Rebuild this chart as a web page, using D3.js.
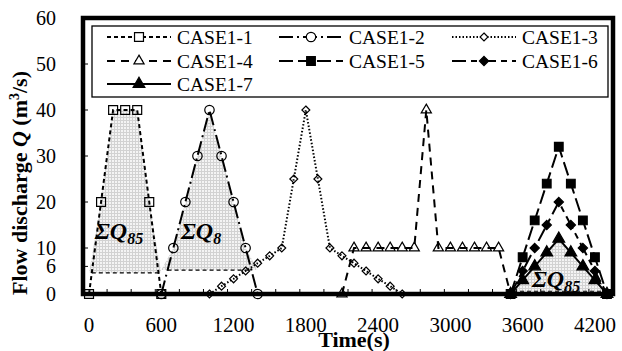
<!DOCTYPE html>
<html>
<head>
<meta charset="utf-8">
<script src="https://cdn.jsdelivr.net/npm/d3@7"></script>
<style>
  body { margin: 0; background: #fff; }
</style>
</head>
<body>
<div id="chart"></div>
<script>
// hydrograph data, time in s, Q in m3/s
const time1 = [0, 100, 200, 300, 400, 500, 600];
const q1 = [0, 20, 40, 40, 40, 20, 0];
const time2 = [600, 700, 800, 900, 1000, 1100, 1200, 1300, 1400];
const q2 = [0, 10, 20, 30, 40, 30, 20, 10, 0];
const time3 = [1000, 1100, 1200, 1300, 1400, 1500, 1600, 1700, 1800, 1900, 2000, 2100, 2200, 2300, 2400, 2500, 2600];
const q3 = [0, 1.7, 3.3, 5, 6.7, 8.3, 10, 25, 40, 25, 10, 8.3, 6.7, 5, 3.3, 1.7, 0];
const time4 = [2100, 2200, 2300, 2400, 2500, 2600, 2700, 2800, 2900, 3000, 3100, 3200, 3300, 3400, 3500];
const q4 = [0, 10, 10, 10, 10, 10, 10, 40, 10, 10, 10, 10, 10, 10, 0];
const time5 = [3500, 3600, 3700, 3800, 3900, 4000, 4100, 4200, 4300];
const q5 = [0, 8, 16, 24, 32, 24, 16, 8, 0];
const q6 = [0, 5, 10, 15, 20, 15, 10, 5, 0];
const q7 = [0, 3, 6, 9, 12, 9, 6, 3, 0];

const seriesNames = ["CASE1-1", "CASE1-2", "CASE1-3", "CASE1-4", "CASE1-5", "CASE1-6", "CASE1-7"];
const xTickLabels = [0, 600, 1200, 1800, 2400, 3000, 3600, 4200];
const yTickLabels = [0, 6, 10, 20, 30, 40, 50, 60];

// shaded volumes: which series, threshold Q
const shadeSeries = [0, 1, 6];
const shadeBase = [4.6, 5.2, 0.6];

const W = 622, H = 351;
const plot = { left: 83, right: 613, top: 18, bottom: 294 };
const serif = "'Liberation Serif', 'Times New Roman', Times, serif";

const x = d3.scaleLinear().domain([-50, 4350]).range([plot.left, plot.right]);
const y = d3.scaleLinear().domain([0, 60]).range([plot.bottom, plot.top]);

const svg = d3.select("#chart").append("svg")
  .attr("width", W).attr("height", H)
  .attr("font-family", serif);

const defs = svg.append("defs");
const pat = defs.append("pattern").attr("id", "grid")
  .attr("width", 3).attr("height", 3).attr("patternUnits", "userSpaceOnUse");
pat.append("rect").attr("width", 3).attr("height", 3).attr("fill", "#f4f4f4");
pat.append("path").attr("d", "M0,0.5H3M0.5,0V3").attr("stroke", "#d2d2d2").attr("stroke-width", 1);

const series = [
  { t: time1, q: q1, dash: "4,3", sym: d3.symbolSquare, size: 80, fill: "none" },
  { t: time2, q: q2, dash: "14,4,2,4", sym: d3.symbolCircle, size: 70, fill: "none" },
  { t: time3, q: q3, dash: "1.5,2", sym: d3.symbolDiamond2, size: 40, fill: "none" },
  { t: time4, q: q4, dash: "8,6", sym: d3.symbolTriangle, size: 45, fill: "none" },
  { t: time5, q: q5, dash: "14,5", sym: d3.symbolSquare, size: 75, fill: "#000" },
  { t: time5, q: q6, dash: "14,5,6,5", sym: d3.symbolDiamond2, size: 55, fill: "#000" },
  { t: time5, q: q7, dash: null, sym: d3.symbolTriangle, size: 60, fill: "#000" }
];

// shaded areas
shadeSeries.forEach((si, k) => {
  const s = series[si];
  const base = shadeBase[k];
  const pts = s.t.map((t, i) => [t, Math.max(s.q[i], base)]);
  const area = d3.area()
    .x(d => x(d[0])).y0(y(base)).y1(d => y(d[1]));
  svg.append("path").datum(pts)
    .attr("d", area).attr("fill", "url(#grid)");
  // dashed base line across the shaded part
  const first = s.q.findIndex(v => v > base);
  const last = s.q.length - 1 - [...s.q].reverse().findIndex(v => v > base);
  const tA = s.t[first - 1] + (base - s.q[first - 1]) / (s.q[first] - s.q[first - 1]) * (s.t[first] - s.t[first - 1]);
  const tB = s.t[last] + (s.q[last] - base) / (s.q[last] - s.q[last + 1]) * (s.t[last + 1] - s.t[last]);
  svg.append("line")
    .attr("x1", x(tA)).attr("x2", x(tB))
    .attr("y1", y(base)).attr("y2", y(base))
    .attr("stroke", "#000").attr("stroke-width", 1.2).attr("stroke-dasharray", "4,3");
});

// volume labels
function sumLabel(px, py, sub) {
  const t = svg.append("text").attr("x", px).attr("y", py)
    .attr("font-size", 24).attr("font-weight", "bold").attr("font-style", "italic");
  t.append("tspan").text("ΣQ");
  t.append("tspan").attr("font-size", 16).attr("dy", 5).text(sub);
}
sumLabel(95, 239, "85");
sumLabel(181, 239, "8");
sumLabel(532, 287, "85");

// x minor ticks
svg.append("g").selectAll("line")
  .data(d3.range(150, 4350, 200))
  .join("line")
  .attr("x1", d => x(d)).attr("x2", d => x(d))
  .attr("y1", plot.bottom).attr("y2", plot.bottom - 5)
  .attr("stroke", "#000").attr("stroke-width", 1);

// y ticks
svg.append("g").selectAll("line")
  .data(yTickLabels)
  .join("line")
  .attr("x1", plot.left).attr("x2", plot.left + 5)
  .attr("y1", d => y(d)).attr("y2", d => y(d))
  .attr("stroke", "#000").attr("stroke-width", 1);

// series lines and markers
const line = d3.line().x(d => x(d[0])).y(d => y(d[1]));
series.forEach(s => {
  const pts = s.t.map((t, i) => [t, s.q[i]]);
  svg.append("path").datum(pts)
    .attr("d", line)
    .attr("fill", "none").attr("stroke", "#000").attr("stroke-width", 2)
    .attr("stroke-dasharray", s.dash);
  svg.append("g").selectAll("path")
    .data(pts)
    .join("path")
    .attr("transform", d => `translate(${x(d[0])},${y(d[1])})`)
    .attr("d", d3.symbol().type(s.sym).size(s.size))
    .attr("fill", s.fill).attr("stroke", "#000").attr("stroke-width", 1.2);
});

// frame
svg.append("rect")
  .attr("x", plot.left).attr("y", plot.top)
  .attr("width", plot.right - plot.left).attr("height", plot.bottom - plot.top)
  .attr("fill", "none").attr("stroke", "#000").attr("stroke-width", 4.5);

// tick labels
svg.append("g").selectAll("text")
  .data(xTickLabels)
  .join("text")
  .attr("x", d => x(d)).attr("y", 332)
  .attr("text-anchor", "middle").attr("font-size", 21)
  .text(d => d);

svg.append("g").selectAll("text")
  .data(yTickLabels)
  .join("text")
  .attr("x", 56).attr("y", d => y(d)).attr("dy", "0.35em")
  .attr("text-anchor", "end").attr("font-size", 20)
  .text(d => d);

// axis titles
svg.append("text")
  .attr("x", 354).attr("y", 347)
  .attr("text-anchor", "middle").attr("font-size", 22).attr("font-weight", "bold")
  .text("Time(s)");

const yt = svg.append("text")
  .attr("transform", "translate(27,183) rotate(-90)")
  .attr("text-anchor", "middle").attr("font-size", 22).attr("font-weight", "bold");
yt.append("tspan").text("Flow discharge ");
yt.append("tspan").attr("font-style", "italic").text("Q");
yt.append("tspan").text(" (m");
yt.append("tspan").attr("font-size", 14).attr("dy", -8).text("3");
yt.append("tspan").attr("dy", 8).text("/s)");

// legend
const legend = svg.append("g");
legend.append("rect")
  .attr("x", 92).attr("y", 26).attr("width", 516).attr("height", 71)
  .attr("fill", "#fff").attr("stroke", "#000").attr("stroke-width", 1.3);
const colX = [107, 279, 452];
const rowY = [37, 61, 84];
series.forEach((s, i) => {
  const cx = colX[i % 3], cy = rowY[Math.floor(i / 3)];
  const g = legend.append("g");
  g.append("line")
    .attr("x1", cx).attr("x2", cx + 64).attr("y1", cy).attr("y2", cy)
    .attr("stroke", "#000").attr("stroke-width", 2)
    .attr("stroke-dasharray", s.dash);
  g.append("path")
    .attr("transform", `translate(${cx + 32},${cy})`)
    .attr("d", d3.symbol().type(s.sym).size(s.size))
    .attr("fill", s.fill === "none" ? "#fff" : s.fill)
    .attr("stroke", "#000").attr("stroke-width", 1.2);
  g.append("text")
    .attr("x", cx + 70).attr("y", cy).attr("dy", "0.35em")
    .attr("font-size", 19.5)
    .text(seriesNames[i]);
});
</script>
</body>
</html>
